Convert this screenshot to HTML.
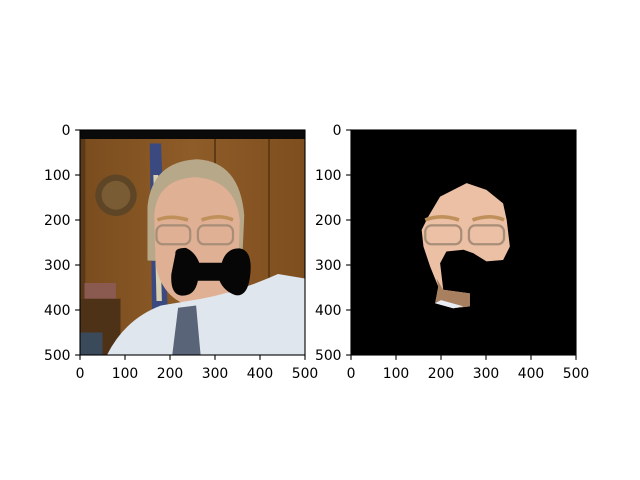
<!DOCTYPE html>
<html><head><meta charset="utf-8"><style>
html,body{margin:0;padding:0;background:#fff}
svg{display:block;font-family:"DejaVu Sans","Liberation Sans",sans-serif}
</style></head><body>
<svg id="fig" width="640" height="480" viewBox="0 0 640 480">
<rect width="640" height="480" fill="#fff"/>
<defs>
<clipPath id="c1"><rect x="0" y="0" width="500" height="500"/></clipPath>
<linearGradient id="wood" x1="0" x2="1"><stop offset="0" stop-color="#7a4c1e"/><stop offset="0.5" stop-color="#8e5c28"/><stop offset="1" stop-color="#7e4e1e"/></linearGradient>
</defs>
<g transform="translate(80,130) scale(0.45)" clip-path="url(#c1)">
<rect width="500" height="500" fill="url(#wood)"/>
<rect width="500" height="20" fill="#0a0a0a"/>
<rect x="0" y="20" width="12" height="480" fill="#5a3a1a"/>
<line x1="300" y1="20" x2="300" y2="500" stroke="#5a3814" stroke-width="4"/>
<line x1="420" y1="20" x2="420" y2="500" stroke="#5a3814" stroke-width="4"/>
<circle cx="80" cy="145" r="46" fill="#5e4526"/>
<circle cx="80" cy="145" r="32" fill="#7a5c34"/>
<rect x="10" y="340" width="70" height="35" fill="#8a5a50"/>
<rect x="0" y="375" width="90" height="125" fill="#4e3218"/>
<rect x="0" y="450" width="50" height="50" fill="#3a4a5a"/>
<path d="M155,30 L180,30 L195,400 L160,400 Z" fill="#3a4a80"/>
<path d="M163,100 L174,100 L182,380 L170,380 Z" fill="#d8d0b0"/>
<path d="M150,170 Q160,70 260,65 Q355,70 365,190 L360,300 L150,290 Z" fill="#b8a88a"/>
<path d="M165,190 Q170,110 255,105 Q345,110 355,200 L352,300 Q340,385 265,395 Q185,385 168,300 Z" fill="#e0b094"/>
<path d="M60,500 Q100,420 180,390 L270,375 Q350,360 440,320 L500,330 L500,500 Z" fill="#dfe6ee"/>
<path d="M218,395 L258,390 L268,500 L205,500 Z" fill="#5a6478"/>
<rect x="170" y="212" width="75" height="42" rx="14" fill="none" stroke="#a88e78" stroke-width="5"/>
<rect x="262" y="212" width="78" height="42" rx="14" fill="none" stroke="#a88e78" stroke-width="5"/>
<path d="M172,200 Q200,188 240,200 M270,200 Q310,186 340,200" stroke="#c0905a" stroke-width="8" fill="none"/>
<path d="M212,275 Q210,262 235,262 Q255,270 265,295 L315,295 Q325,262 355,263 Q385,268 378,325 Q372,372 345,367 Q320,358 310,335 L262,335 Q255,370 225,368 Q200,365 203,320 Z" fill="#060606"/>
</g>
<g transform="translate(351,130) scale(0.45)" clip-path="url(#c1)">
<rect width="500" height="500" fill="#000"/>
<path d="M198,148 L257,118 L301,133 L338,163 L346,200 L353,259 L338,289 L301,292 L272,274 L250,266 L212,270 L198,296 L205,355 L264,363 L264,392 L227,396 L187,385 L194,348 L176,304 L161,259 L157,222 L172,192 Z" fill="#ebc0a4"/>
<path d="M190,330 L205,355 L264,363 L264,392 L227,396 L187,385 L194,348 Z" fill="#a88060"/>
<path d="M187,385 L227,396 L250,392 L200,378 Z" fill="#e8eef4"/>
<rect x="165" y="212" width="80" height="42" rx="14" fill="none" stroke="#a88e78" stroke-width="5"/>
<rect x="262" y="212" width="78" height="42" rx="14" fill="none" stroke="#a88e78" stroke-width="5"/>
<path d="M165,200 Q200,186 240,200 M270,200 Q310,186 340,200" stroke="#c0905a" stroke-width="8" fill="none"/>
</g>
<g id="axes"></g>
</svg>
<script>
const ticks=[0,100,200,300,400,500];
const tickLabels=["0","100","200","300","400","500"];
const panels=[{x:80,name:'left'},{x:351,name:'right'}];
const NS='http://www.w3.org/2000/svg';
const g=document.getElementById('axes');
const top0=130,size=225;
function sx(p,v){return p.x+v/500*size;}
function sy(v){return top0+v/500*size;}
function mk(t,a){const e=document.createElementNS(NS,t);for(const k in a)e.setAttribute(k,a[k]);g.appendChild(e);return e;}
panels.forEach(p=>{
  const f=mk('rect',{x:p.x,y:top0,width:size,height:size,fill:'none',stroke:'#000','stroke-width':1.1});
  
  
  ticks.forEach((t,i)=>{
    const X=sx(p,t),Y=sy(t);
    mk('line',{x1:X,y1:top0+size,x2:X,y2:top0+size+4.9,stroke:'#000','stroke-width':1.1});
    mk('line',{x1:p.x,y1:Y,x2:p.x-4.9,y2:Y,stroke:'#000','stroke-width':1.1});
    const tx=mk('text',{x:X,y:top0+size+23,'font-size':13.9,'text-anchor':'middle',fill:'#000'});
    tx.textContent=tickLabels[i];
    
    
    const ty=mk('text',{x:p.x-9.5,y:Y+5,'font-size':13.9,'text-anchor':'end',fill:'#000'});
    ty.textContent=tickLabels[i];
    
    
  });
});
</script>
</body></html>
